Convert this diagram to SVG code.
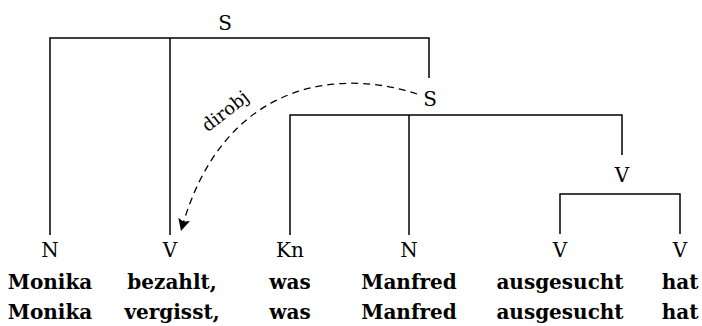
<svg xmlns="http://www.w3.org/2000/svg" width="702" height="326" viewBox="0 0 702 326">
<style>
.ln{stroke:#000;stroke-width:1.5;fill:none}
.lb{font-family:"DejaVu Serif","Liberation Serif",serif;font-size:20px;text-anchor:middle;fill:#000}
.w{font-family:"DejaVu Serif","Liberation Serif",serif;font-size:20px;font-weight:bold;text-anchor:middle;fill:#000}
.rl{font-family:"DejaVu Serif","Liberation Serif",serif;font-size:18px;text-anchor:middle;fill:#000}
.dash{stroke:#000;stroke-width:1.3;fill:none;stroke-dasharray:7 5}
</style>
<defs>
<marker id="ah" viewBox="0 0 10 10" refX="10" refY="5" markerWidth="20" markerHeight="12" markerUnits="userSpaceOnUse" orient="auto">
<path d="M0,0 L10,5 L0,10 L2,5 Z" fill="#000"/>
</marker>
</defs>
<g id="connectors">
<path class="ln" d="M50,235 V38 H429 V78"/>
<path class="ln" d="M170,38 V235"/>
<path class="ln" d="M290,235 V115 H622 V155"/>
<path class="ln" d="M409,115 V235"/>
<path class="ln" d="M560,234 V194 H680 V234"/>
<path class="dash" d="M417,94 C340,68 222,80 181,231" marker-end="url(#ah)"/>
<text class="rl" transform="translate(229,116) rotate(-38)">dirobj</text>
</g>
<g id="S1"><text class="lb" x="225" y="30">S</text></g>
<g id="S2"><text class="lb" x="430" y="106">S</text></g>
<g id="V2"><text class="lb" x="622" y="182">V</text></g>
<g id="N1"><text class="lb" x="50" y="257">N</text><text class="w" x="50" y="289">Monika</text><text class="w" x="50" y="319">Monika</text></g>
<g id="V1"><text class="lb" x="170" y="257">V</text><text class="w" x="172" y="289">bezahlt,</text><text class="w" x="172" y="319">vergisst,</text></g>
<g id="Kn"><text class="lb" x="290" y="257">Kn</text><text class="w" x="290" y="289">was</text><text class="w" x="290" y="319">was</text></g>
<g id="N2"><text class="lb" x="409" y="257">N</text><text class="w" x="409" y="289">Manfred</text><text class="w" x="409" y="319">Manfred</text></g>
<g id="V3"><text class="lb" x="560" y="257">V</text><text class="w" x="560" y="289">ausgesucht</text><text class="w" x="560" y="319">ausgesucht</text></g>
<g id="V4"><text class="lb" x="680" y="257">V</text><text class="w" x="680" y="289">hat</text><text class="w" x="680" y="319">hat</text></g>
</svg>
